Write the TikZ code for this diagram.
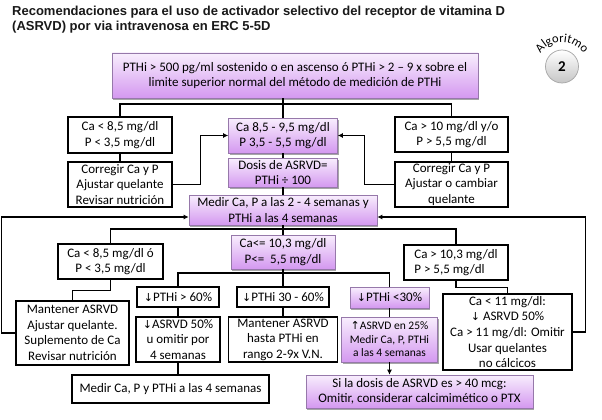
\documentclass[tikz,border=0pt]{standalone}
\usepackage{fontspec}
\setmainfont{Carlito}
\newfontfamily\titlefont{Liberation Sans}
\newfontfamily\symfont{DejaVu Sans}
\usetikzlibrary{arrows.meta,shadows,decorations.text,calc}
\definecolor{ptop}{RGB}{248,238,253}
\definecolor{pbot}{RGB}{212,152,240}
\definecolor{pborder}{RGB}{150,120,170}
\newcommand\dnarr{{\symfont\fontsize{11}{11}\selectfont ↓}}
\newcommand\uparr{{\symfont\fontsize{11}{11}\selectfont ↑}}
\tikzset{
  txt/.style={font=\fontsize{13}{15.6}\selectfont},
  wbox/.style={draw=black, line width=1.6pt, fill=white, inner sep=1pt, align=center, txt},
  pbox/.style={draw=pborder, line width=0.6pt, top color=ptop, bottom color=pbot,
    drop shadow={shadow xshift=1.3pt, shadow yshift=-1.6pt, opacity=0.35, fill=black},
    inner sep=1pt, align=center, txt},
  conn/.style={line width=1.3pt, draw=black},
  arr/.style={conn, -{Latex[length=5pt,width=5pt]}},
}
\begin{document}
\begin{tikzpicture}[x=1pt,y=1pt]
\useasboundingbox (0,0) rectangle (602,-420);
\fill[white] (0,0) rectangle (602,-420);

% title
\node[anchor=north west, inner sep=0, align=left, text=black!90,
      font=\titlefont\bfseries\fontsize{13}{15}\selectfont] (title) at (12,-6)
  {Recomendaciones para el uso de activador selectivo del receptor de vitamina D\\(ASRVD) por via intravenosa en ERC 5-5D};

% badge
\node[circle, minimum size=33pt, inner sep=0, draw=gray!70, line width=0.7pt,
      top color=white, bottom color=gray!45,
      font=\fontsize{15}{15}\selectfont\bfseries] (badge) at (562,-66.5) {2};
\path[decorate, decoration={text along path, text align=center,
      text={|\fontsize{12.5}{12.5}\selectfont|Algoritmo}}]
  ($(badge.center)+(0,-1.5)+(155:26)$) arc[start angle=155, end angle=25, radius=26];

% top level
\node[pbox, minimum width=366pt, minimum height=45pt] (T) at (295,-75.5)
  {PTHi > 500 pg/ml sostenido o en ascenso ó PTHi > 2 – 9 x sobre el\\limite superior normal del método de medición de PTHi};

\node[wbox, minimum width=104pt, minimum height=36pt] (A1) at (120,-135) {Ca < 8,5 mg/dl\\P < 3,5 mg/dl};
\node[wbox, minimum width=104pt, minimum height=45pt] (A2) at (120,-184.5) {Corregir Ca y P\\Ajustar quelante\\Revisar nutrición};
\node[pbox, minimum width=109pt, minimum height=35pt] (B1) at (283,-135.5) {Ca 8,5 - 9,5 mg/dl\\P 3,5 - 5,5 mg/dl};
\node[pbox, minimum width=109pt, minimum height=29pt] (B2) at (283,-172.5) {Dosis de ASRVD=\\PTHi ÷ 100};
\node[wbox, minimum width=113pt, minimum height=35pt] (C1) at (451.5,-134.5) {Ca > 10 mg/dl y/o\\P > 5,5 mg/dl};
\node[wbox, minimum width=113pt, minimum height=45pt] (C2) at (451.5,-184.5) {Corregir Ca y P\\Ajustar o cambiar\\quelante};
\node[pbox, minimum width=188pt, minimum height=30pt] (D) at (283,-210) {Medir Ca, P a las 2 - 4 semanas y\\PTHi a las 4 semanas};

\node[pbox, minimum width=104pt, minimum height=34pt] (E) at (283,-252) {Ca<= 10,3 mg/dl\\P<=\ \ 5,5 mg/dl};
\node[wbox, minimum width=105pt, minimum height=35pt] (E1) at (110.5,-261.5) {Ca < 8,5 mg/dl ó\\P < 3,5 mg/dl};
\node[wbox, minimum width=104pt, minimum height=35pt, align=left] (E3) at (456,-262.5) {Ca > 10,3 mg/dl\\P > 5,5 mg/dl};

\node[wbox, minimum width=113pt, minimum height=64pt] (F1) at (72.5,-333) {Mantener ASRVD\\Ajustar quelante.\\Suplemento de Ca\\Revisar nutrición};
\node[wbox, minimum width=129pt, minimum height=76pt, inner sep=0pt] (F5) at (507.5,-332) {Ca < 11 mg/dl:\\\dnarr\ ASRVD 50\%\\Ca > 11 mg/dl: Omitir\\Usar quelantes\\no cálcicos};

\node[wbox, minimum width=82pt, minimum height=20pt, inner sep=0pt] (G1) at (178,-297) {\dnarr PTHi > 60\%};
\node[wbox, minimum width=92pt, minimum height=20pt, inner sep=0pt] (G2) at (283,-297) {\dnarr PTHi 30 - 60\%};
\node[pbox, minimum width=79pt, minimum height=21pt, inner sep=0pt] (G3) at (389.5,-297.5) {\dnarr PTHi <30\%};

\node[wbox, minimum width=84pt, minimum height=45pt] (H1) at (178,-339.5) {\dnarr ASRVD 50\%\\u omitir por\\4 semanas};
\node[wbox, minimum width=109pt, minimum height=45pt] (H2) at (283,-339.5) {Mantener ASRVD\\hasta PTHi en\\rango 2-9x V.N.};
\node[pbox, minimum width=96pt, minimum height=45pt, font=\fontsize{11.5}{13.5}\selectfont] (H3) at (389.5,-339.5) {\uparr ASRVD en 25\%\\Medir Ca, P, PTHi\\a las 4 semanas};

\node[wbox, minimum width=197pt, minimum height=28pt] (I1) at (170.5,-389) {Medir Ca, P y PTHi a las 4 semanas};
\node[pbox, minimum width=227pt, minimum height=33pt] (I2) at (419.5,-391.5) {Si la dosis de ASRVD es > 40 mcg:\\Omitir, considerar calcimimético o PTX};

% connectors, upper part
\coordinate (j1) at (283,-104);
\draw[conn] (T.south -| j1) -- (B1.north);
\draw[conn] (A1.north) |- (j1) -| (C1.north);
\draw[conn] (A1.south) -- (A2.north);
\draw[conn] (B1.south) -- (B2.north);
\draw[conn] (C1.south) -- (C2.north);
\draw[conn] (B2.south) -- (D.north);
\draw[arr] (A2.east) -- ++(28,0) |- (B1.west);
\draw[arr] (C2.west) -- ++(-30,0) |- (B1.east);

% middle
\coordinate (j2) at (283,-229);
\draw[conn] (D.south) -- (E.north);
\draw[conn] (E1.north) |- (j2) -| (E3.north);
\draw[conn] (E1.south) -- ++(0,-11) -| (F1.north);
\draw[conn] (E3.south) -- ++(0,-7) -| (F5.north);
\coordinate (j3) at (283,-273);
\draw[conn] (E.south) -- (G2.north);
\draw[conn] (G1.north) |- (j3) -| (G3.north);
\draw[conn] (G1.south) -- (H1.north);
\draw[conn] (G2.south) -- (H2.north);
\draw[conn] (G3.south) -- (H3.north);
\draw[conn] (H1.south) -- (H1.south |- I1.north);
\draw[arr] (H3.south) -- (H3.south |- I2.north);

% feedback loops
\draw[arr] (F1.west) -- ++(-14,0) |- ([yshift=-7pt]D.west);
\draw[arr] (F5.east) -- ++(13,0) |- ([yshift=-7pt]D.east);
\end{tikzpicture}
\end{document}
